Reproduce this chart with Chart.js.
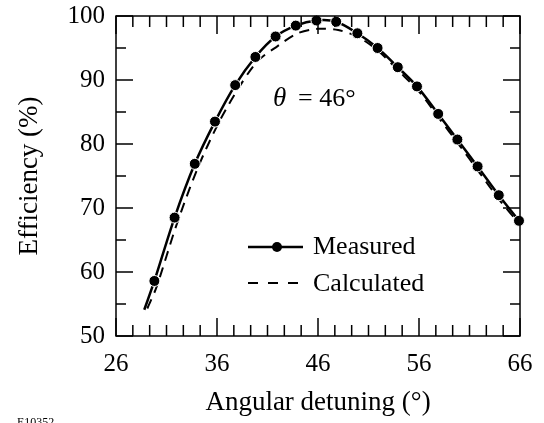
<!DOCTYPE html>
<html><head><meta charset="utf-8">
<script src="https://cdn.jsdelivr.net/npm/chart.js@4.4.1/dist/chart.umd.min.js"></script>
<style>html,body{margin:0;padding:0;background:#fff}#wrap{position:relative;width:544px;height:423px}</style>
</head><body><div id="wrap"><canvas id="c" width="544" height="423"></canvas></div>
<script>
// Measured: first entry is the start of the fitted solid curve (no marker)
const measuredAngle = [28.8, 29.8, 31.8, 33.8, 35.8, 37.8, 39.8, 41.8, 43.8, 45.85, 47.8, 49.9, 51.9, 53.9, 55.8, 57.9, 59.8, 61.8, 63.9, 65.9];
const measuredEff   = [54.1, 58.6, 68.5, 76.9, 83.5, 89.2, 93.6, 96.8, 98.5, 99.3, 99.1, 97.3, 95.0, 92.0, 89.0, 84.7, 80.7, 76.5, 72.0, 68.0];
const calcAngle = [29.1, 30, 32, 34, 36, 38, 40, 42, 44, 46, 48, 50, 52, 54, 56, 58, 60, 62, 64, 66];
const calcEff   = [54.3, 57.6, 67.4, 75.9, 82.8, 88.4, 92.9, 95.3, 97.3, 98.0, 97.8, 96.7, 94.5, 91.4, 88.2, 84.0, 79.8, 75.5, 71.2, 67.4];
const xTickValues = [26, 36, 46, 56, 66];
const yTickValues = [50, 60, 70, 80, 90, 100];
const seriesLabels = ['Measured', 'Calculated'];
const xTitle = 'Angular detuning (°)';
const yTitle = 'Efficiency (%)';
const noteSymbol = 'θ';
const noteText = '= 46°';
const figId = 'E10352';

const SERIF = "'Liberation Serif', 'Times New Roman', serif";

const toPts = (xs, ys) => xs.map((v, i) => ({x: v, y: ys[i]}));

const framePlugin = {
  id: 'frame',
  afterDraw(chart) {
    const {ctx, chartArea: a, scales: {x, y}} = chart;
    ctx.save();
    ctx.strokeStyle = '#000';
    ctx.lineWidth = 1.5;
    ctx.strokeRect(a.left, a.top, a.right - a.left, a.bottom - a.top);
    ctx.beginPath();
    for (let i = 0; i < xTickValues.length; i++) {
      const v0 = xTickValues[i];
      const px = x.getPixelForValue(v0);
      ctx.moveTo(px, a.bottom); ctx.lineTo(px, a.bottom - 18);
      ctx.moveTo(px, a.top); ctx.lineTo(px, a.top + 18);
      if (i < xTickValues.length - 1) {
        const step = (xTickValues[i + 1] - v0) / 6;
        for (let k = 1; k < 6; k++) {
          const p = x.getPixelForValue(v0 + k * step);
          ctx.moveTo(p, a.bottom); ctx.lineTo(p, a.bottom - 11);
          ctx.moveTo(p, a.top); ctx.lineTo(p, a.top + 11);
        }
      }
    }
    for (let i = 0; i < yTickValues.length; i++) {
      const v0 = yTickValues[i];
      const py = y.getPixelForValue(v0);
      ctx.moveTo(a.left, py); ctx.lineTo(a.left + 17, py);
      ctx.moveTo(a.right, py); ctx.lineTo(a.right - 17, py);
      if (i < yTickValues.length - 1) {
        const p = y.getPixelForValue((v0 + yTickValues[i + 1]) / 2);
        ctx.moveTo(a.left, p); ctx.lineTo(a.left + 10, p);
        ctx.moveTo(a.right, p); ctx.lineTo(a.right - 10, p);
      }
    }
    ctx.stroke();

    // legend
    ctx.lineWidth = 2.5;
    ctx.setLineDash([]);
    ctx.beginPath(); ctx.moveTo(248, 247); ctx.lineTo(303, 247); ctx.stroke();
    ctx.beginPath(); ctx.arc(277, 247, 5, 0, Math.PI * 2); ctx.fillStyle = '#000'; ctx.fill();
    ctx.lineWidth = 2;
    ctx.beginPath();
    [248, 268, 288].forEach(s => { ctx.moveTo(s, 283); ctx.lineTo(s + 10, 283); });
    ctx.stroke();
    ctx.fillStyle = '#000';
    ctx.font = '26px ' + SERIF;
    ctx.textBaseline = 'alphabetic';
    ctx.textAlign = 'left';
    ctx.fillText(seriesLabels[0], 313, 254);
    ctx.fillText(seriesLabels[1], 313, 291);

    // annotation
    ctx.font = 'italic 27px ' + SERIF;
    ctx.fillText(noteSymbol, 273, 106);
    ctx.font = '26px ' + SERIF;
    ctx.fillText(noteText, 298, 106);

    // figure id (cut at bottom)
    ctx.font = '12px ' + SERIF;
    ctx.textBaseline = 'top';
    ctx.fillText(figId, 17, 417);
    ctx.restore();
  }
};

new Chart(document.getElementById('c'), {
  type: 'scatter',
  data: {
    datasets: [
      {
        label: seriesLabels[0],
        data: toPts(measuredAngle, measuredEff),
        showLine: true,
        borderColor: '#000',
        borderWidth: 2.5,
        tension: 0.3,
        pointRadius: ctx => ctx.dataIndex === 0 ? 0 : 5.5,
        pointBackgroundColor: '#000',
        pointBorderColor: '#fff',
        pointBorderWidth: 1,
        clip: 12
      },
      {
        label: seriesLabels[1],
        data: toPts(calcAngle, calcEff),
        showLine: true,
        borderColor: '#000',
        borderWidth: 2,
        borderDash: [10, 7],
        tension: 0.3,
        pointRadius: 0,
        clip: 12
      }
    ]
  },
  options: {
    responsive: false,
    animation: false,
    devicePixelRatio: 1,
    layout: {padding: {top: 16, right: 24, left: 0, bottom: 0}},
    plugins: {legend: {display: false}, tooltip: {enabled: false}},
    scales: {
      x: {
        type: 'linear', min: 26, max: 66,
        afterBuildTicks: s => { s.ticks = xTickValues.map(v => ({value: v})); },
        afterFit: s => { s.height = 87; s.paddingLeft = 0; s.paddingRight = 0; },
        grid: {display: false, drawTicks: false},
        border: {display: false},
        ticks: {font: {family: SERIF, size: 25}, color: '#000', padding: 13, maxRotation: 0, autoSkip: false},
        title: {display: true, text: xTitle, font: {family: SERIF, size: 27}, color: '#000', padding: {top: 0, bottom: 4}}
      },
      y: {
        type: 'linear', min: 50, max: 100,
        afterBuildTicks: s => { s.ticks = yTickValues.map(v => ({value: v})); },
        afterFit: s => { s.width = 116; s.paddingTop = 0; s.paddingBottom = 0; },
        grid: {display: false, drawTicks: false},
        border: {display: false},
        ticks: {font: {family: SERIF, size: 25}, color: '#000', padding: 11, autoSkip: false},
        title: {display: true, text: yTitle, font: {family: SERIF, size: 27}, color: '#000', padding: {top: 14, bottom: 0}}
      }
    }
  },
  plugins: [framePlugin]
});
</script>
</body></html>
